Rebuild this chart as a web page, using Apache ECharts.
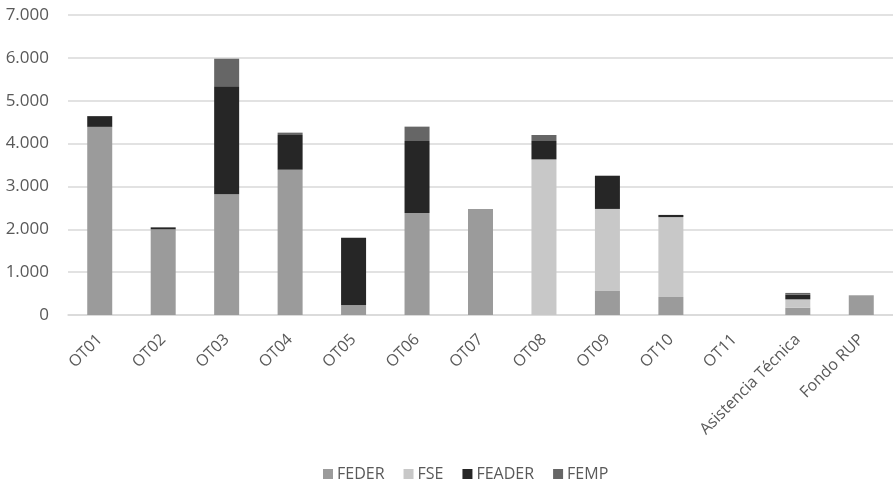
<!DOCTYPE html>
<html>
<head>
<meta charset="utf-8">
<script src="https://cdn.jsdelivr.net/npm/echarts@6/dist/echarts.min.js"></script>
<style>html,body{margin:0;padding:0;background:#fff;}#c{width:893px;height:480px;}</style>
</head>
<body>
<div id="c"></div>
<script>
const categories = ['OT01','OT02','OT03','OT04','OT05','OT06','OT07','OT08','OT09','OT10','OT11','Asistencia Técnica','Fondo RUP'];
const feder  = [4390, 2000, 2815, 3390, 225, 2380, 2475, 0, 560, 420, 0, 170, 460];
const fse    = [0, 0, 0, 0, 0, 0, 0, 3630, 1915, 1865, 0, 195, 0];
const feader = [250, 45, 2525, 810, 1580, 1680, 0, 430, 775, 50, 0, 110, 0];
const femp   = [0, 0, 640, 55, 0, 335, 0, 140, 0, 0, 0, 40, 0];
const yTicks = [0, 1000, 2000, 3000, 4000, 5000, 6000, 7000];

const font = 'Open Sans';
const txt = '#595959';
const chart = echarts.init(document.getElementById('c'));
function fmt(v){ return String(v).replace(/\B(?=(\d{3})+(?!\d))/g, '.'); }
function s(name, data, color){
  return {name, type:'bar', stack:'t', data, barWidth:25, itemStyle:{color}, emphasis:{disabled:true}};
}
chart.setOption({
  animation:false,
  grid:{left:68, right:-10, top:15, bottom:165},
  legend:{top:466, left:323, padding:0, itemWidth:10, itemHeight:10, itemGap:19, icon:'rect',
    textStyle:{fontFamily:font, fontSize:16, color:txt, padding:[0,0,0,-1]}},
  xAxis:{type:'category', data:categories,
    axisLine:{lineStyle:{color:'#d9d9d9', width:1.5}}, axisTick:{show:false},
    axisLabel:{rotate:45, interval:0, margin:22, fontFamily:font, fontSize:16, color:txt}},
  yAxis:{type:'value', min:yTicks[0], max:yTicks[yTicks.length-1], interval:1000,
    splitLine:{lineStyle:{color:'#d9d9d9', width:1.5}}, axisLine:{show:false}, axisTick:{show:false},
    axisLabel:{fontFamily:font, fontSize:17, color:txt, margin:19, formatter:fmt}},
  series:[
    s('FEDER', feder, '#9b9b9b'),
    s('FSE', fse, '#c8c8c8'),
    s('FEADER', feader, '#262626'),
    s('FEMP', femp, '#666666')
  ]
});
</script>
</body>
</html>
